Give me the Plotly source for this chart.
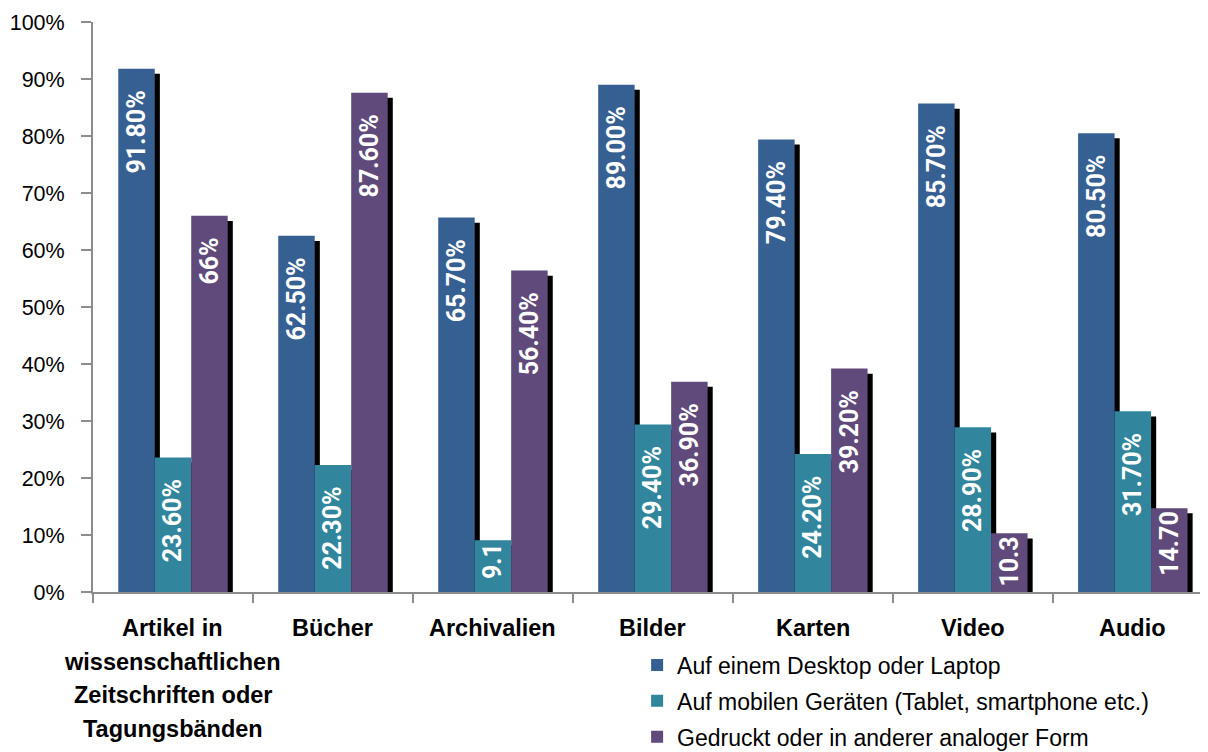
import plotly.graph_objects as go

categories = ["Artikel in wissenschaftlichen Zeitschriften oder Tagungsbänden",
              "Bücher", "Archivalien", "Bilder", "Karten", "Video", "Audio"]
tick_lines = [["Artikel in", "wissenschaftlichen", "Zeitschriften oder", "Tagungsbänden"],
              ["Bücher"], ["Archivalien"], ["Bilder"], ["Karten"], ["Video"], ["Audio"]]

series_names = ["Auf einem Desktop oder Laptop",
                "Auf mobilen Geräten (Tablet, smartphone etc.)",
                "Gedruckt oder in anderer analoger Form"]

desktop = [91.8, 62.5, 65.7, 89.0, 79.4, 85.7, 80.5]
mobile = [23.6, 22.3, 9.1, 29.4, 24.2, 28.9, 31.7]
printed = [66.0, 87.6, 56.4, 36.9, 39.2, 10.3, 14.7]

desktop_labels = ["91.80%", "62.50%", "65.70%", "89.00%", "79.40%", "85.70%", "80.50%"]
mobile_labels = ["23.60%", "22.30%", "9.1", "29.40%", "24.20%", "28.90%", "31.70%"]
printed_labels = ["66%", "87.60%", "56.40%", "36.90%", "39.20%", "10.3", "14.70"]

colors = ["#376092", "#31859C", "#604A7B"]
offsets = [-0.342, -0.114, 0.114]
bar_w = 0.228
NB = "\u00a0"

series = [desktop, mobile, printed]
labels = [desktop_labels, mobile_labels, printed_labels]

fig = go.Figure()

# shadows
for vals, off in zip(series, offsets):
    fig.add_trace(go.Bar(
        x=categories, y=[v - 0.9 for v in vals], offset=off + 0.032, width=bar_w,
        marker=dict(color="black", line=dict(width=0)),
        showlegend=False, hoverinfo="skip"))

for i, (vals, labs, off, col, name) in enumerate(zip(series, labels, offsets, colors, series_names)):
    txt = [l + (NB * 3 if l.endswith("%") else "") for l in labs]
    fig.add_trace(go.Bar(
        x=categories, y=vals, offset=off, width=bar_w, name=name,
        legendgroup=f"g{i}",
        marker=dict(color=col, line=dict(width=0)),
        text=txt, textposition="inside", insidetextanchor="end", textangle=-90,
        textfont=dict(family="Roboto", size=25, color="white", weight="bold"),
        constraintext="none"))

axis_color = "#8c8c8c"
font_main = "Liberation Sans, Arial, sans-serif"

annotations = []
for cat, lines in zip(categories, tick_lines):
    for j, line in enumerate(lines):
        annotations.append(dict(
            x=cat, xref="x", y=0, yref="paper", yanchor="top", xanchor="center",
            yshift=-(21 + j * 33.7), text=line, showarrow=False,
            font=dict(family=font_main, size=23.5, color="black", weight="bold")))

fig.update_layout(
    width=1200, height=744,
    margin=dict(l=85, r=0, t=14, b=160, autoexpand=False),
    paper_bgcolor="white", plot_bgcolor="white",
    barmode="overlay",
    font=dict(family=font_main, color="black"),
    xaxis=dict(type="category", range=[-0.5, 6.47], showline=True, linecolor=axis_color,
               linewidth=2, ticks="outside", tickson="boundaries", ticklen=9,
               tickcolor=axis_color, tickwidth=2, showticklabels=False, showgrid=False,
               automargin=False),
    yaxis=dict(range=[0, 100], dtick=10, ticksuffix="%", showline=True, linecolor=axis_color,
               linewidth=2, ticks="outside", ticklen=10, tickcolor=axis_color, tickwidth=2,
               showgrid=False, zeroline=False, ticklabelstandoff=12, automargin=False,
               tickfont=dict(family=font_main, size=21.5, color="black")),
    legend=dict(x=0.488, y=-0.292, xanchor="left", yanchor="bottom",
                traceorder="grouped", tracegroupgap=3,
                font=dict(family=font_main, size=23, color="black"),
                bgcolor="rgba(0,0,0,0)"),
    annotations=annotations,
)

fig.write_html("out.html")
